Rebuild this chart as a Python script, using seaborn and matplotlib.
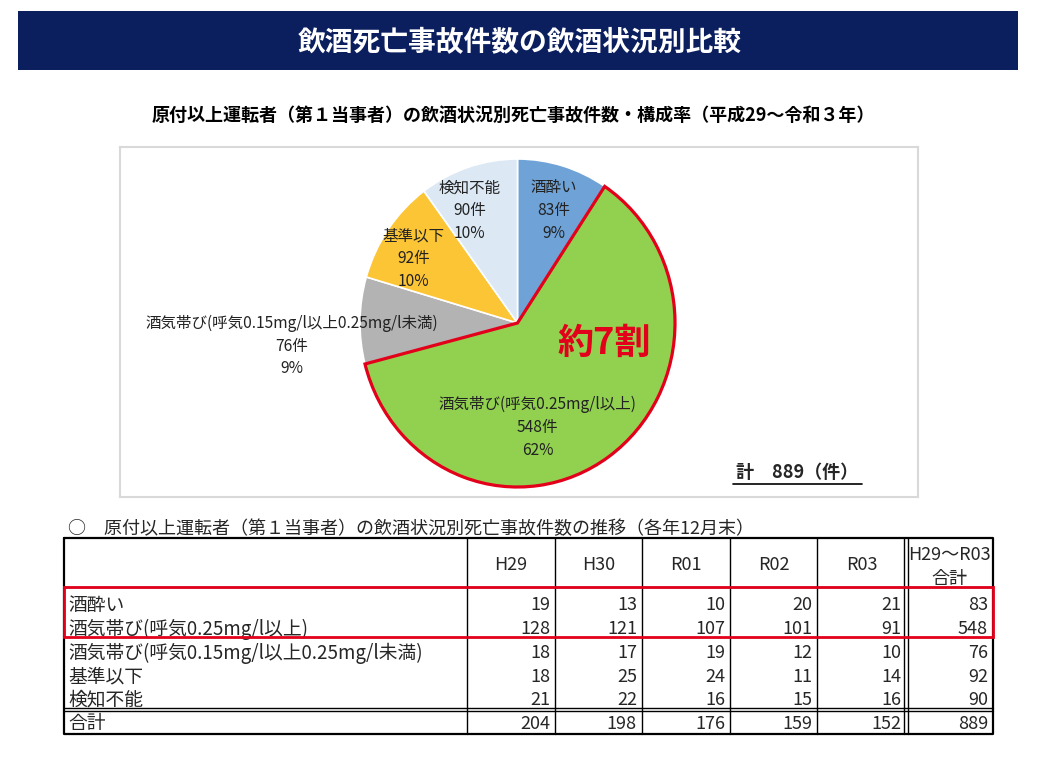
import numpy as np
import pandas as pd
import seaborn as sns
import matplotlib
matplotlib.use('Agg')
import matplotlib.pyplot as plt
from matplotlib.patches import Rectangle

# ---------------- data ----------------
categories = ['酒酔い', '酒気帯び(呼気0.25mg/l以上)',
              '酒気帯び(呼気0.15mg/l以上0.25mg/l未満)', '基準以下', '検知不能']
years = ['H29', 'H30', 'R01', 'R02', 'R03']
drunk = [19, 13, 10, 20, 21]
dui_high = [128, 121, 107, 101, 91]
dui_low = [18, 17, 19, 12, 10]
below = [18, 25, 24, 11, 14]
undetected = [21, 22, 16, 15, 16]
total_col_label = 'H29～R03\n合計'
total_row_label = '合計'

title = '飲酒死亡事故件数の飲酒状況別比較'
subtitle = '原付以上運転者（第１当事者）の飲酒状況別死亡事故件数・構成率（平成29～令和３年）'
table_caption = '○　原付以上運転者（第１当事者）の飲酒状況別死亡事故件数の推移（各年12月末）'
callout = '約7割'

df = pd.DataFrame([drunk, dui_high, dui_low, below, undetected],
                  index=categories, columns=years)
cat_totals = df.sum(axis=1)
year_totals = df.sum(axis=0)
grand = int(cat_totals.sum())

# ---------------- style ----------------
sns.set_theme(style='white')
plt.rcParams['font.family'] = ['Noto Sans CJK JP', 'DejaVu Sans']

W, H = 1040, 758
fig = plt.figure(figsize=(W / 100, H / 100), dpi=100)
fig.patch.set_facecolor('white')

# overlay axes in pixel coordinates
ov = fig.add_axes([0, 0, 1, 1])
ov.set_xlim(0, W)
ov.set_ylim(H, 0)
ov.axis('off')

# banner
ov.add_patch(Rectangle((18, 11), 1000, 59, facecolor='#0b1f5f', edgecolor='none'))
ov.text(520, 43, title, color='white', fontsize=20, fontweight='bold',
        ha='center', va='center')
ov.text(513, 115, subtitle, color='black', fontsize=13, fontweight='bold',
        ha='center', va='center')

# ---------------- pie ----------------
bx0, by0, bx1, by1 = 120, 147, 918, 497
cx, cy, rx, ry = 517.5, 323, 157.5, 164
pax = fig.add_axes([bx0 / W, (H - by1) / H, (bx1 - bx0) / W, (by1 - by0) / H])
pal = ['#6fa3d8', '#92d050', '#b3b3b3', '#fcc536', '#dce9f5']
wedges, _ = pax.pie(cat_totals.values, startangle=90, counterclock=False,
                    colors=pal, wedgeprops=dict(edgecolor='white', linewidth=1.2))
wedges[1].set_edgecolor('#e3001b')
wedges[1].set_linewidth(2.3)
wedges[1].set_zorder(5)
pax.set_aspect('auto')
pax.set_xlim((bx0 - cx) / rx, (bx1 - cx) / rx)
pax.set_ylim(-(by1 - cy) / ry, (cy - by0) / ry)
pax.set_frame_on(True)
for s in pax.spines.values():
    s.set_visible(True)
    s.set_color('#d9d9d9')
    s.set_linewidth(1.5)
pax.set_facecolor('white')

label_pos = [(0.229, 0.685), (0.127, -0.638), (-1.433, -0.14),
             (-0.662, 0.392), (-0.306, 0.685)]
for (lx, ly), cat, v in zip(label_pos, categories, cat_totals.values):
    pct = int(round(v / grand * 100))
    pax.text(lx, ly, f'{cat}\n{v}件\n{pct}%', ha='center', va='center',
             fontsize=11.2, linespacing=1.45, color='#222222', zorder=10)
pax.text(0.548, -0.125, callout, color='#e3001b', fontsize=26, fontweight='bold',
         ha='center', va='center', zorder=10)
pax.text((797 - cx) / rx, -(473 - cy) / ry, f'計　{grand}（件）', fontsize=13,
         fontweight='bold', ha='center', va='center', zorder=10)
pax.plot([(733 - cx) / rx, (862 - cx) / rx], [-(484 - cy) / ry] * 2,
         color='black', lw=1.2, zorder=10)

# ---------------- table ----------------
ov.text(68, 529, table_caption, fontsize=13, ha='left', va='center')

col_edges = [64, 467, 555, 642, 730, 817, 906, 993]
t_top, h_bot, t_bot = 538, 587, 734
row_y = [605, 629, 653, 677, 700]
dbl_y = 709.5
tot_y = 724

lc = 'black'
ov.plot([64, 993, 993, 64, 64], [t_top, t_top, t_bot, t_bot, t_top], color=lc, lw=1.6)
for x in col_edges[1:-2]:
    ov.plot([x, x], [t_top, t_bot], color=lc, lw=1.0)
for x in (904, 908):
    ov.plot([x, x], [t_top, t_bot], color=lc, lw=1.0)
ov.plot([64, 993], [h_bot, h_bot], color=lc, lw=1.0)
for y in (dbl_y - 1.8, dbl_y + 1.8):
    ov.plot([64, 993], [y, y], color=lc, lw=1.0)

fs = 13
centers = [(col_edges[i] + col_edges[i + 1]) / 2 for i in range(1, 7)]
for xc, yr in zip(centers[:5], years):
    ov.text(xc, 565, yr, fontsize=fs, ha='center', va='center')
ov.text(centers[5], 567, total_col_label, fontsize=fs, ha='center', va='center',
        linespacing=1.4)

for yy, cat in zip(row_y, categories):
    ov.text(68, yy, cat, fontsize=13.5, ha='left', va='center')
    for j, yr in enumerate(years):
        ov.text(col_edges[j + 2] - 5, yy, str(df.loc[cat, yr]), fontsize=fs,
                ha='right', va='center')
    ov.text(col_edges[7] - 5, yy, str(cat_totals[cat]), fontsize=fs,
            ha='right', va='center')

ov.text(68, tot_y, total_row_label, fontsize=13.5, ha='left', va='center')
for j, yr in enumerate(years):
    ov.text(col_edges[j + 2] - 5, tot_y, str(year_totals[yr]), fontsize=fs,
            ha='right', va='center')
ov.text(col_edges[7] - 5, tot_y, str(grand), fontsize=fs, ha='right', va='center')

ov.add_patch(Rectangle((64, 587), 929, 50, facecolor='none', edgecolor='#e3001b',
                       lw=2.0, zorder=6))

fig.savefig('out.png', dpi=100, facecolor='white')
